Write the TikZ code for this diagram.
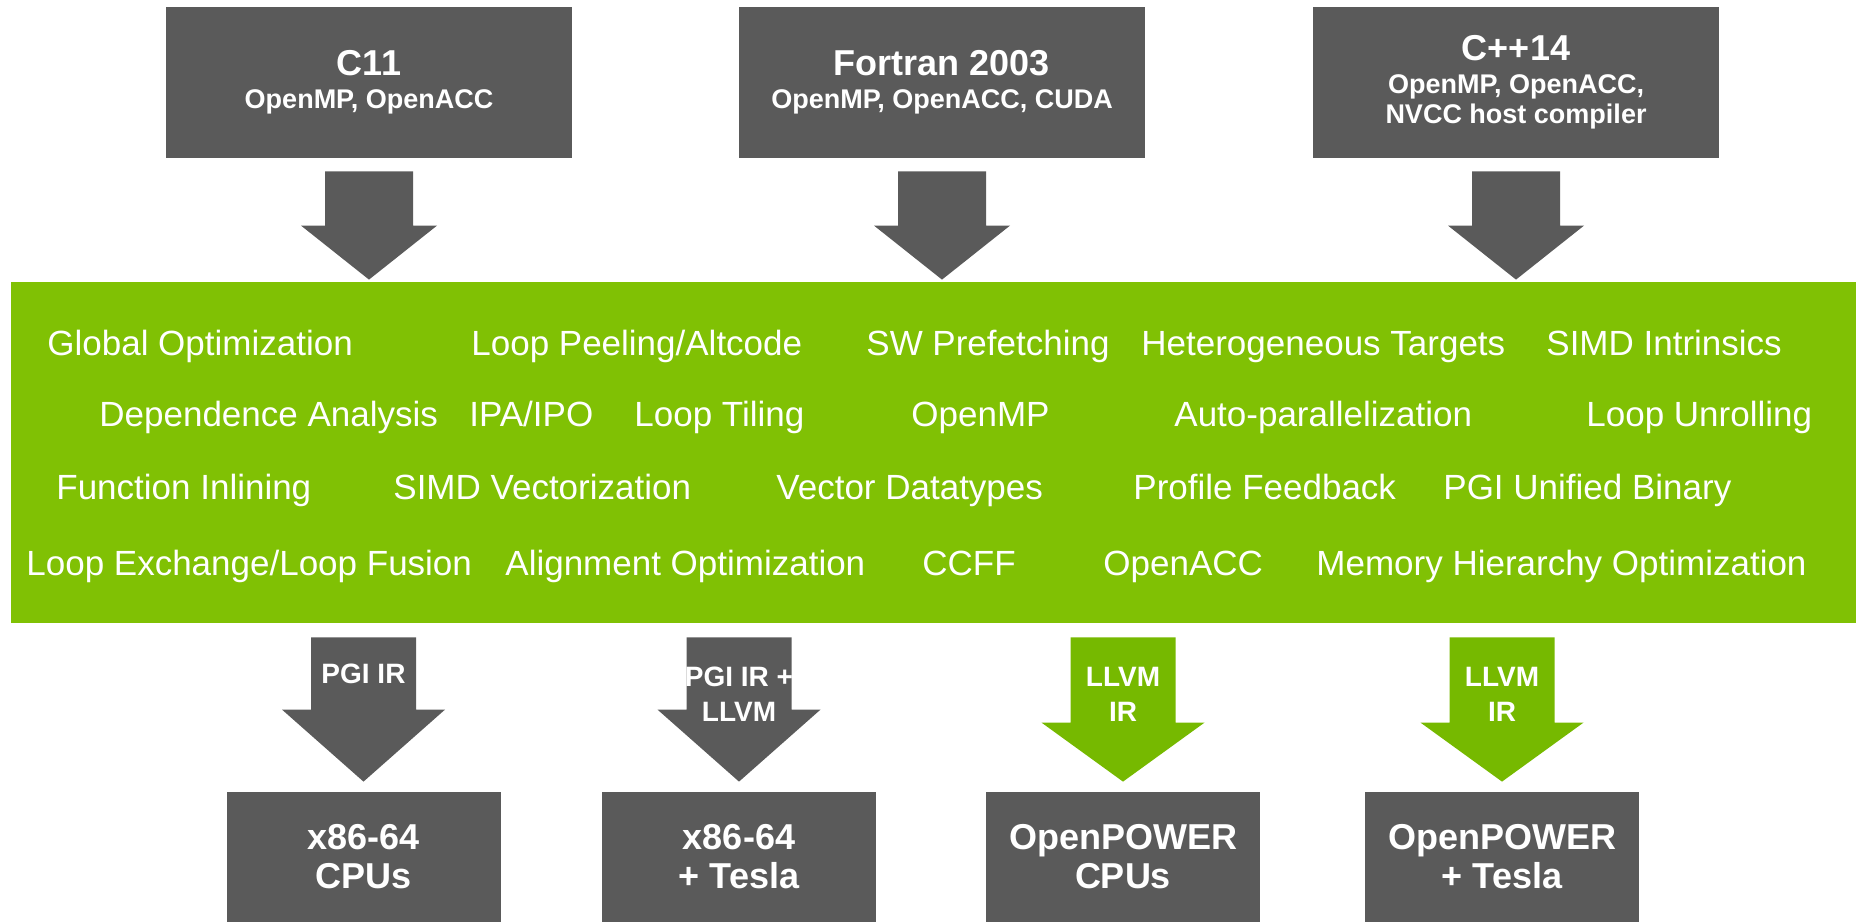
\documentclass[tikz,border=0pt]{standalone}
\usepackage{fontspec}
\setmainfont{Liberation Sans}
\usetikzlibrary{positioning,calc}
\definecolor{boxgray}{HTML}{5A5A5A}
\definecolor{bargreen}{HTML}{80C104}
\definecolor{nvgreen}{HTML}{76B900}

% block arrow: colour, start, end, shaft half width, head half width, head length
\newcommand{\fatarrow}[6]{%
  \fill[#1] let \p1=(#2), \p2=(#3) in
    (\x1-#4,\y1) -- (\x1+#4,\y1) -- (\x1+#4,\y2+#6) -- (\x1+#5,\y2+#6)
    -- (\x1,\y2) -- (\x1-#5,\y2+#6) -- (\x1-#4,\y2+#6) -- cycle;}

\begin{document}
\begin{tikzpicture}[x=0.5pt, y=-0.5pt,
    srcbox/.style={fill=boxgray, text=white, align=center, inner sep=0pt,
      minimum width=203pt, minimum height=75.5pt,
      font=\bfseries\fontsize{13.5}{15}\selectfont},
    tgtbox/.style={fill=boxgray, text=white, align=center, inner sep=0pt,
      minimum width=137pt, minimum height=65pt,
      font=\bfseries\fontsize{18}{19.5}\selectfont},
    optitem/.style={anchor=base west, inner sep=0pt, text=white,
      font=\fontsize{17.5}{20}\selectfont},
    irlabel/.style={text=white, align=center, inner sep=0pt,
      font=\bfseries\fontsize{14}{17.5}\selectfont}]
  \useasboundingbox (0,0) rectangle (1856,922);

  % source languages
  \node[srcbox] (c11) at (369,82.5) {{\fontsize{18}{18}\selectfont C11}\\[1.4pt] OpenMP, OpenACC};
  \node[srcbox] (f03) at (942,82.5) {{\fontsize{18}{18}\selectfont Fortran 2003}\\[1.4pt] OpenMP, OpenACC, CUDA};
  \node[srcbox] (cpp14) at (1516,82.5) {{\fontsize{18}{18}\selectfont C++14}\\[1.4pt] OpenMP, OpenACC,\\ NVCC host compiler};

  % optimizer
  \node[fill=bargreen, minimum width=922.5pt, minimum height=170.5pt, inner sep=0pt] (opt) at (933.5,452.5) {};

  \fatarrow{boxgray}{$(c11.south)+(0,13)$}{$(c11.south |- opt.north)+(0,-2)$}{22pt}{34pt}{27pt}
  \fatarrow{boxgray}{$(f03.south)+(0,13)$}{$(f03.south |- opt.north)+(0,-2)$}{22pt}{34pt}{27pt}
  \fatarrow{boxgray}{$(cpp14.south)+(0,13)$}{$(cpp14.south |- opt.north)+(0,-2)$}{22pt}{34pt}{27pt}

  % row 1
  \node[optitem] (globopt) at (47,355) {Global Optimization};
  \node[optitem] (peel) at (471,355) {Loop Peeling/Altcode};
  \node[optitem] (prefetch) at (866,355) {SW Prefetching};
  \node[optitem] (hetero) at (1141,355) {Heterogeneous Targets};
  \node[optitem] (simdint) at (1546,355) {SIMD Intrinsics};
  % row 2
  \node[optitem] (depend) at (99,426) {Dependence Analysis};
  \node[optitem] (ipa) at (469,426) {IPA/IPO};
  \node[optitem] (tiling) at (634,426) {Loop Tiling};
  \node[optitem] (omp) at (911,426) {OpenMP};
  \node[optitem] (autopar) at (1174,426) {Auto-parallelization};
  \node[optitem] (unroll) at (1586,426) {Loop Unrolling};
  % row 3
  \node[optitem] (inline) at (56,499) {Function Inlining};
  \node[optitem] (simdvec) at (393,499) {SIMD Vectorization};
  \node[optitem] (vecdt) at (776,499) {Vector Datatypes};
  \node[optitem] (pgo) at (1133,499) {Profile Feedback};
  \node[optitem] (unified) at (1443,499) {PGI Unified Binary};
  % row 4
  \node[optitem] (exchange) at (26,575) {Loop Exchange/Loop Fusion};
  \node[optitem] (align) at (505,575) {Alignment Optimization};
  \node[optitem] (ccff) at (922,575) {CCFF};
  \node[optitem] (acc) at (1103,575) {OpenACC};
  \node[optitem] (memhier) at (1316,575) {Memory Hierarchy Optimization};

  % targets
  \node[tgtbox] (x86) at (363.5,857) {x86-64\\CPUs};
  \node[tgtbox] (x86tesla) at (739,857) {x86-64\\+ Tesla};
  \node[tgtbox] (powercpu) at (1123,857) {OpenPOWER\\CPUs};
  \node[tgtbox] (powertesla) at (1502,857) {OpenPOWER\\+ Tesla};

  \fatarrow{boxgray}{$(x86.north |- opt.south)+(0,14)$}{$(x86.north)+(0,-10)$}{26.25pt}{40.75pt}{36pt}
  \fatarrow{boxgray}{$(x86tesla.north |- opt.south)+(0,14)$}{$(x86tesla.north)+(0,-10)$}{26.25pt}{40.75pt}{36pt}
  \fatarrow{nvgreen}{$(powercpu.north |- opt.south)+(0,14)$}{$(powercpu.north)+(0,-10)$}{26.25pt}{40.75pt}{29.5pt}
  \fatarrow{nvgreen}{$(powertesla.north |- opt.south)+(0,14)$}{$(powertesla.north)+(0,-10)$}{26.25pt}{40.75pt}{29.5pt}

  \node[irlabel] (ir1) at ($(x86.north |- opt.south)+(0,50)$) {PGI IR};
  \node[irlabel] (ir2) at ($(x86tesla.north |- opt.south)+(0,71)$) {PGI IR +\\LLVM};
  \node[irlabel] (ir3) at ($(powercpu.north |- opt.south)+(0,71)$) {LLVM\\IR};
  \node[irlabel] (ir4) at ($(powertesla.north |- opt.south)+(0,71)$) {LLVM\\IR};
\end{tikzpicture}
\end{document}
